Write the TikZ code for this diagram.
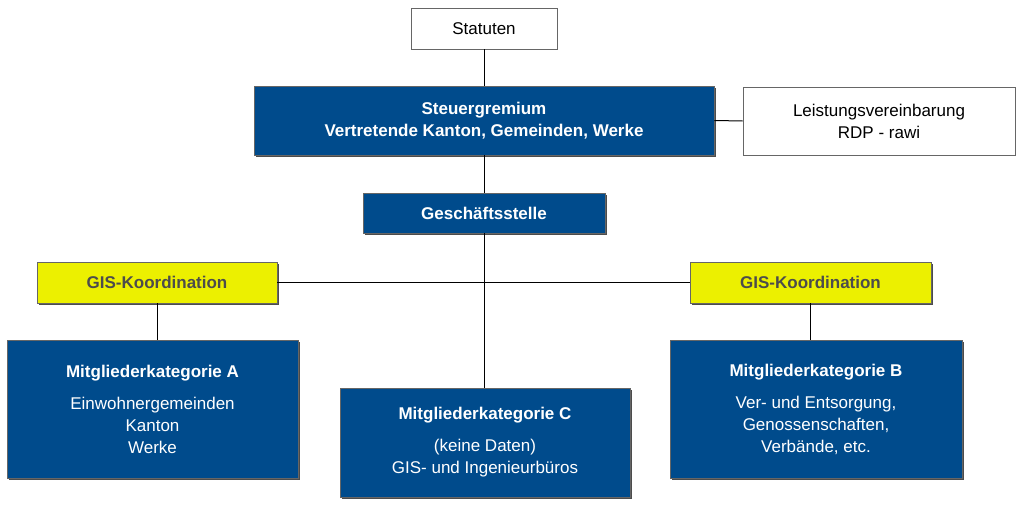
\documentclass[tikz,border=0pt]{standalone}
\usepackage{fontspec}
\setmainfont{Liberation Sans}
\usetikzlibrary{shadows}
\definecolor{dblue}{RGB}{0,75,140}
\definecolor{yel}{RGB}{236,240,0}
\begin{document}
\begin{tikzpicture}[x=1pt,y=-1pt,
 base/.style={draw=black!60,line width=0.8pt,inner sep=0pt,align=center,font=\fontsize{17}{22}\selectfont},
 wbox/.style={base,fill=white},
 bbox/.style={base,fill=dblue,text=white,drop shadow={shadow xshift=2pt,shadow yshift=-2pt,fill=black!70,opacity=1}},
 ybox/.style={base,fill=yel,text=black!70,font=\fontsize{17}{22}\selectfont\bfseries,drop shadow={shadow xshift=2pt,shadow yshift=-2pt,fill=black!70,opacity=1}},
 ln/.style={line width=1pt}]
\useasboundingbox (0,0) rectangle (1024,508);
\node[wbox,minimum width=146,minimum height=41] (st) at (484,28.5) {Statuten};
\node[bbox,minimum width=460,minimum height=69] (sg) at (484,120.5) {\textbf{Steuergremium}\\\textbf{Vertretende Kanton, Gemeinden, Werke}};
\node[wbox,minimum width=272,minimum height=68] (lv) at (879,121) {Leistungsvereinbarung\\RDP - rawi};
\node[bbox,minimum width=242,minimum height=40,font=\fontsize{17}{22}\selectfont\bfseries] (gs) at (484,213) {Geschäftsstelle};
\node[ybox,minimum width=240,minimum height=41] (gl) at (157,282.5) {GIS-Koordination};
\node[ybox,minimum width=241,minimum height=41] (gr) at (810.5,282.5) {GIS-Koordination};
\node[bbox,minimum width=291,minimum height=138] (a) at (152.5,409) {\textbf{Mitgliederkategorie A}\\[10pt]Einwohnergemeinden\\Kanton\\Werke};
\node[bbox,minimum width=290,minimum height=109] (c) at (485,442.5) {\textbf{Mitgliederkategorie C}\\[10pt](keine Daten)\\GIS- und Ingenieurbüros};
\node[bbox,minimum width=292,minimum height=138] (b) at (816,409) {\textbf{Mitgliederkategorie B}\\[10pt]Ver- und Entsorgung,\\Genossenschaften,\\Verbände, etc.};
\coordinate (j) at (484,282.5);
\begin{scope}[on background layer/.style={}]
\draw[ln] (st.south) -- (sg.north);
\draw[ln] (sg.south) -- (gs.north);
\draw[ln] (gs.south) -- (484,388);
\draw[ln] (gl.east) -- (gr.west);
\draw[ln] (gl.south) -- (gl.south |- a.north);
\draw[ln] (gr.south) -- (gr.south |- b.north);
\draw[ln] (sg.east) -- (lv.west);
\end{scope}
\end{tikzpicture}
\end{document}
